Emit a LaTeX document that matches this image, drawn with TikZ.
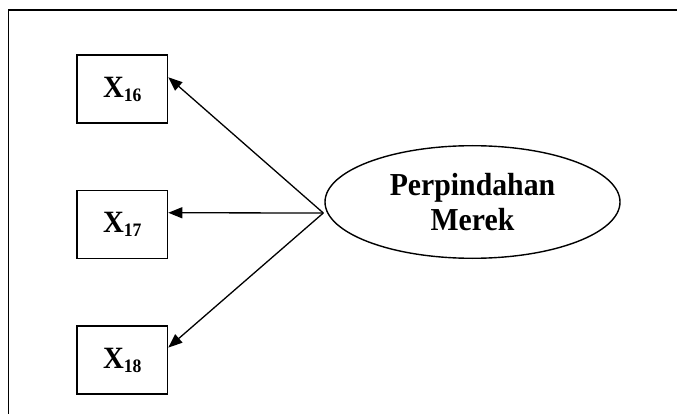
\documentclass[tikz,border=0pt]{standalone}
\usepackage{fontspec}
\setmainfont[FakeStretch=0.93]{Liberation Serif}
\usetikzlibrary{arrows.meta,calc,shapes.geometric}
\begin{document}
\begin{tikzpicture}[x=1pt,y=-1pt,
  indicator/.style={draw,line width=1.5pt,rectangle,minimum width=90.5pt,minimum height=67.6pt,inner sep=0pt},
  latent/.style={draw,line width=1.4pt,ellipse,minimum width=295pt,minimum height=112.6pt,inner sep=0pt,align=center},
  loading/.style={line width=1.3pt,-{Triangle[length=14pt,width=11pt]}}]
\useasboundingbox (0,0) rectangle (677,414);
% outer frame (runs past the page on the right and bottom)
\draw[line width=1.6pt] (8.6,10) rectangle (720,450);
\newcommand{\ind}[1]{{\fontsize{31}{31}\selectfont\bfseries X}\raisebox{-4pt}{\fontsize{19}{19}\selectfont\bfseries #1}}
\node[indicator] (x16) at (122.3,89) {\ind{16}};
\node[indicator] (x17) at (122.3,224.5) {\ind{17}};
\node[indicator] (x18) at (122.3,360) {\ind{18}};
\node[latent,font=\fontsize{32}{34.4}\selectfont\bfseries] (pm) at (472.5,202) {Perpindahan\\Merek};
\coordinate (src) at ($(pm.west)+(-1,11)$);
\draw[loading] (src) -- ($(x16.north east)!0.33!(x16.south east)$);
\draw[loading] (src) -- ($(x17.north east)!0.33!(x17.south east)$);
\draw[loading] (src) -- ($(x18.north east)!0.32!(x18.south east)$);
\end{tikzpicture}
\end{document}
